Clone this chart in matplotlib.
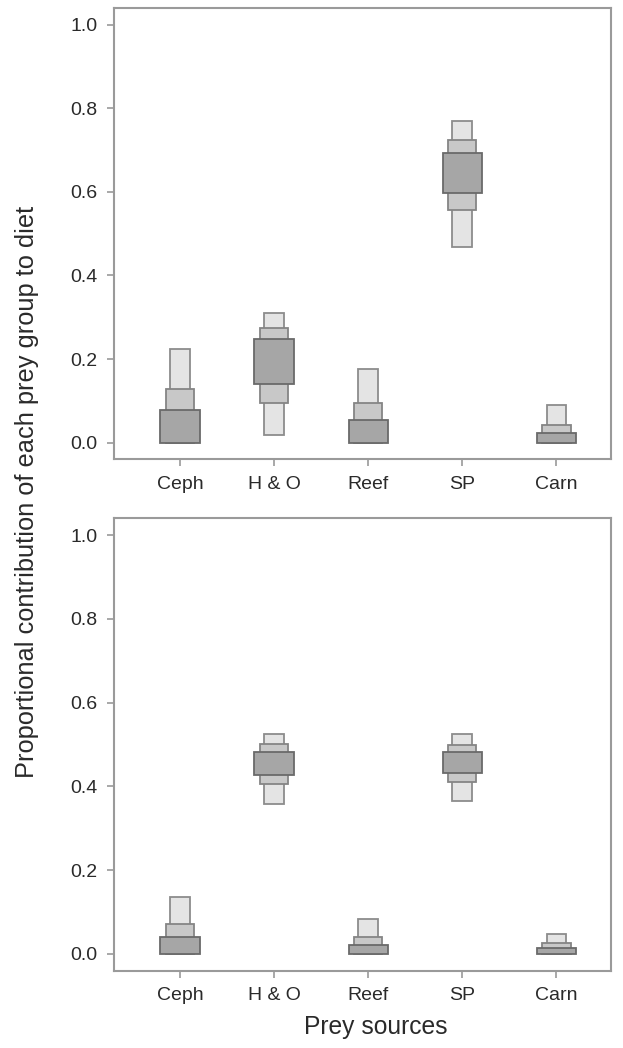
import matplotlib
matplotlib.use("Agg")
import matplotlib.pyplot as plt

plt.rcParams['font.family'] = ['Liberation Sans', 'DejaVu Sans']

categories = ['Ceph', 'H & O', 'Reef', 'SP', 'Carn']

# Top panel credible intervals (95%, 75%, 50%)
top_lo95 = [0.000, 0.018, 0.000, 0.467, 0.000]
top_hi95 = [0.223, 0.310, 0.176, 0.770, 0.090]
top_lo75 = [0.000, 0.094, 0.000, 0.557, 0.000]
top_hi75 = [0.128, 0.275, 0.094, 0.724, 0.042]
top_lo50 = [0.000, 0.140, 0.000, 0.598, 0.000]
top_hi50 = [0.077, 0.249, 0.054, 0.694, 0.022]

# Bottom panel credible intervals (95%, 75%, 50%)
bot_lo95 = [0.000, 0.359, 0.000, 0.365, 0.000]
bot_hi95 = [0.137, 0.526, 0.084, 0.526, 0.048]
bot_lo75 = [0.000, 0.405, 0.000, 0.410, 0.000]
bot_hi75 = [0.072, 0.501, 0.040, 0.498, 0.025]
bot_lo50 = [0.000, 0.427, 0.000, 0.431, 0.000]
bot_hi50 = [0.041, 0.482, 0.022, 0.481, 0.013]

yticks = [0.0, 0.2, 0.4, 0.6, 0.8, 1.0]

fig = plt.figure(figsize=(6.23, 10.48), dpi=100)
W, H = 623, 1048
left, right = 114.3 / W, 611 / W
ax_top = fig.add_axes([left, 1 - 459.4 / H, right - left, (459.4 - 8) / H])
ax_bot = fig.add_axes([left, 1 - 970.7 / H, right - left, (970.7 - 518.3) / H])

frame_col = '#9a9a9a'
text_col = '#2a2a2a'

levels = [
    (0.21, '#e4e4e4', '#8c8c8c'),
    (0.30, '#c8c8c8', '#858585'),
    (0.42, '#a6a6a6', '#6a6a6a'),
]

def draw(ax, lows, highs):
    x = list(range(1, len(categories) + 1))
    for (w, fc, ec), lo, hi in zip(levels, lows, highs):
        heights = [h - l for l, h in zip(lo, hi)]
        ax.bar(x, heights, bottom=lo, width=w, color=fc, edgecolor=ec,
               linewidth=1.3, zorder=3)
    ax.set_xlim(0.30, 5.58)
    ax.set_ylim(-0.04, 1.04)
    ax.set_xticks(x)
    ax.set_xticklabels(categories)
    ax.set_yticks(yticks)
    ax.set_yticklabels([f'{v:.1f}' for v in yticks])
    for s in ax.spines.values():
        s.set_color(frame_col)
        s.set_linewidth(1.5)
    ax.tick_params(axis='both', colors=frame_col, labelcolor=text_col,
                   labelsize=14, length=5, width=1.2)
    ax.tick_params(axis='y', pad=7)
    ax.tick_params(axis='x', pad=7)

draw(ax_top, [top_lo95, top_lo75, top_lo50], [top_hi95, top_hi75, top_hi50])
draw(ax_bot, [bot_lo95, bot_lo75, bot_lo50], [bot_hi95, bot_hi75, bot_hi50])

fig.text(27 / W, 1 - 491.5 / H, 'Proportional contribution of each prey group to diet',
         rotation=90, ha='center', va='center', fontsize=18.3, color=text_col)
fig.text(376 / W, 1 - 1027 / H, 'Prey sources', ha='center', va='center',
         fontsize=17.7, color=text_col)

fig.savefig('out.png', dpi=100)
